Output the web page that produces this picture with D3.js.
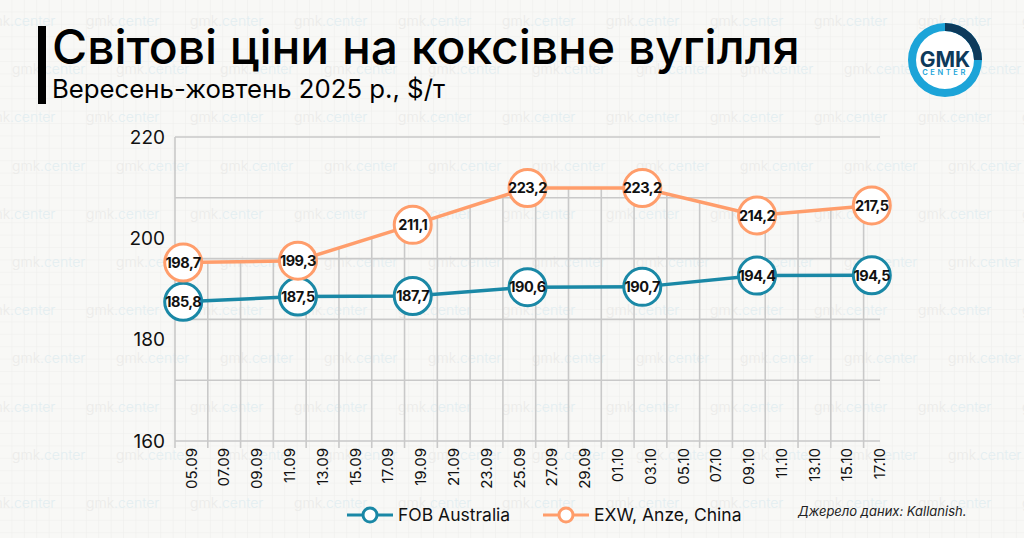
<!DOCTYPE html>
<html>
<head>
<meta charset="utf-8">
<script src="https://cdn.jsdelivr.net/npm/d3@7"></script>
<style>
    body { margin: 0; background: #f7f7f5; }
    svg { display: block; font-family: Inter, "Noto Sans", sans-serif; }
</style>
</head>
<body>
<div id="chart"></div>
<script>
// weekly prices, $/t
var dates = ["05.09", "12.09", "19.09", "26.09", "03.10", "10.10", "17.10"];
var fob_australia = [185.8, 187.5, 187.7, 190.6, 190.7, 194.4, 194.5];
var exw_anze = [198.7, 199.3, 211.1, 223.2, 223.2, 214.2, 217.5];

var series_names = ["FOB Australia", "EXW, Anze, China"];
var series_colors = ["#1a88a6", "#ff9d6b"];

// x axis labels, every second day
var x_ticks = ["05.09", "07.09", "09.09", "11.09", "13.09", "15.09", "17.09", "19.09", "21.09", "23.09", "25.09",
    "27.09", "29.09", "01.10", "03.10", "05.10", "07.10", "09.10", "11.10", "13.10", "15.10", "17.10"];
// gridlines of the plotted scale vs. the labels printed on the left
var y_grid = [140, 160, 180, 200, 220, 240];
var y_labels = [160, 180, 200, 220];

var title = "Світові ціни на коксівне вугілля";
var subtitle = "Вересень-жовтень 2025 р., $/т";
var source = "Джерело даних: Kallanish.";

var W = 1024, H = 538;
var plot = { left: 175, right: 880, top: 137, bottom: 441 };

var parseDay = d3.timeParse("%d.%m.%Y");
function toDate(s) { return parseDay(s + ".2025"); }
function dayMid(s) { return d3.timeHour.offset(toDate(s), 12); }

var x = d3.scaleTime()
    .domain([toDate("05.09"), toDate("18.10")])
    .range([plot.left, plot.right]);

var y = d3.scaleLinear()
    .domain([d3.min(y_grid), d3.max(y_grid)])
    .range([plot.bottom, plot.top]);

var yLabel = d3.scaleLinear()
    .domain([d3.min(y_labels), d3.max(y_labels)])
    .range([plot.bottom, plot.top]);

var svg = d3.select("#chart").append("svg")
    .attr("width", W)
    .attr("height", H);

var defs = svg.append("defs");

// faint squared paper
var pat = defs.append("pattern")
    .attr("id", "paper")
    .attr("width", 12.4)
    .attr("height", 12.4)
    .attr("patternUnits", "userSpaceOnUse");
pat.append("rect").attr("width", 12.4).attr("height", 12.4).attr("fill", "#f8f8f6");
pat.append("path").attr("d", "M12.4 0V12.4H0").attr("fill", "none").attr("stroke", "#eeeeec").attr("stroke-width", 1);

svg.append("rect").attr("width", W).attr("height", H).attr("fill", "url(#paper)");

// watermark rows
var wm = svg.append("g").attr("font-size", 14).attr("font-weight", 300);
for (var r = 0; r < 11; r++) {
    var off = (r % 2 == 0) ? -18 : 12;
    for (var cx = off; cx < W; cx += 104) {
        var t = wm.append("text")
            .attr("x", cx)
            .attr("y", 22 + r * 48.2)
            .attr("dominant-baseline", "middle");
        t.append("tspan").attr("fill", "#ebebe9").text("gmk");
        t.append("tspan").attr("fill", "#e3eef1").text(".center");
    }
}

// header
svg.append("rect").attr("x", 38).attr("y", 26).attr("width", 8).attr("height", 78).attr("fill", "#000");

var tt = svg.append("text")
    .attr("x", 52).attr("y", 64)
    .attr("font-size", 46).attr("font-weight", 500)
    .attr("fill", "#000")
    .text(title);
var tw = tt.node().getComputedTextLength();
tt.attr("font-size", 46 * 748 / tw);

var st = svg.append("text")
    .attr("x", 52).attr("y", 98)
    .attr("font-size", 24)
    .attr("fill", "#000")
    .text(subtitle);
var sw = st.node().getComputedTextLength();
st.attr("font-size", 24 * 393 / sw);

// logo
var logo = svg.append("g").attr("transform", "translate(945,60)");
logo.append("circle").attr("r", 30).attr("fill", "#fff");
var arc = d3.arc().innerRadius(29).outerRadius(37);
logo.append("path").attr("d", arc({ startAngle: 0, endAngle: 2 * Math.PI })).attr("fill", "#1ca4d8");
logo.append("path").attr("d", arc({ startAngle: 0, endAngle: Math.PI / 2 })).attr("fill", "#0d3a5b");
logo.append("text").attr("y", 7).attr("text-anchor", "middle")
    .attr("font-size", 21).attr("font-weight", 700).attr("fill", "#0d3a5b").text("GMK");
logo.append("text").attr("y", 15).attr("text-anchor", "middle")
    .attr("font-size", 7.5).attr("font-weight", 600).attr("letter-spacing", 2.6).attr("fill", "#1ca4d8").text("CENTER");

// horizontal grid
var grid = svg.append("g").attr("stroke", "#c9c9c9").attr("stroke-width", 1.6);
grid.selectAll("line.h")
    .data(y_grid)
    .enter().append("line")
    .attr("x1", plot.left).attr("x2", plot.right)
    .attr("y1", function(d) { return y(d); })
    .attr("y2", function(d) { return y(d); });

// vertical grid only shows below the orange line
var clipArea = d3.area()
    .x(function(d, i) { return x(dayMid(dates[i])); })
    .y0(plot.bottom)
    .y1(function(d) { return y(d); });
defs.append("clipPath").attr("id", "under")
    .append("path").attr("d", clipArea(exw_anze));

grid.append("g").attr("clip-path", "url(#under)")
    .selectAll("line")
    .data(x_ticks.slice(1))
    .enter().append("line")
    .attr("x1", function(d) { return x(toDate(d)); })
    .attr("x2", function(d) { return x(toDate(d)); })
    .attr("y1", plot.top).attr("y2", plot.bottom);

// tick marks under the axis
grid.selectAll("line.tick")
    .data(x_ticks)
    .enter().append("line")
    .attr("x1", function(d) { return x(toDate(d)); })
    .attr("x2", function(d) { return x(toDate(d)); })
    .attr("y1", plot.bottom).attr("y2", plot.bottom + 7);

grid.append("line")
    .attr("x1", plot.left).attr("x2", plot.left)
    .attr("y1", plot.top).attr("y2", plot.bottom);

// y labels
svg.append("g").selectAll("text")
    .data(y_labels)
    .enter().append("text")
    .attr("x", 165)
    .attr("y", function(d) { return yLabel(d); })
    .attr("dy", "0.35em")
    .attr("text-anchor", "end")
    .attr("font-size", 19)
    .attr("fill", "#111")
    .text(function(d) { return d; });

// x labels
svg.append("g").selectAll("text")
    .data(x_ticks)
    .enter().append("text")
    .attr("transform", function(d) {
        return "translate(" + x(d3.timeDay.offset(toDate(d), 1)) + "," + (plot.bottom + 7) + ")rotate(-90)";
    })
    .attr("text-anchor", "end")
    .attr("dy", "0.35em")
    .attr("font-size", 15)
    .attr("fill", "#111")
    .text(function(d) { return d; });

// series
var fmt = function(v) { return d3.format(".1f")(v).replace(".", ","); };
var all_series = [fob_australia, exw_anze];

all_series.forEach(function(vals, s) {
    var line = d3.line()
        .x(function(d, i) { return x(dayMid(dates[i])); })
        .y(function(d) { return y(d); });

    svg.append("path")
        .attr("d", line(vals))
        .attr("fill", "none")
        .attr("stroke", series_colors[s])
        .attr("stroke-width", 3.5);

    var pts = svg.append("g").selectAll("g")
        .data(vals)
        .enter().append("g")
        .attr("transform", function(d, i) { return "translate(" + x(dayMid(dates[i])) + "," + y(d) + ")"; });

    pts.append("circle")
        .attr("r", 18.5)
        .attr("fill", "#fff")
        .attr("stroke", series_colors[s])
        .attr("stroke-width", 3);

    pts.append("text")
        .attr("text-anchor", "middle")
        .attr("dy", "0.36em")
        .attr("font-size", 14.5)
        .attr("font-weight", 700)
        .attr("letter-spacing", -0.5)
        .attr("fill", "#111")
        .text(function(d) { return fmt(d); });
});

// legend
var legend_x = [347, 543];
series_names.forEach(function(name, s) {
    var g = svg.append("g").attr("transform", "translate(" + legend_x[s] + ",515)");
    g.append("line").attr("x1", 0).attr("x2", 46)
        .attr("stroke", series_colors[s]).attr("stroke-width", 3);
    g.append("circle").attr("cx", 23).attr("r", 7)
        .attr("fill", "#fff").attr("stroke", series_colors[s]).attr("stroke-width", 3);
    g.append("text").attr("x", 51).attr("dy", "0.36em")
        .attr("font-size", 17.5).attr("fill", "#111").text(name);
});

svg.append("text")
    .attr("x", 798).attr("y", 516)
    .attr("font-size", 13)
    .attr("font-style", "italic")
    .attr("fill", "#222")
    .text(source);
</script>
</body>
</html>
